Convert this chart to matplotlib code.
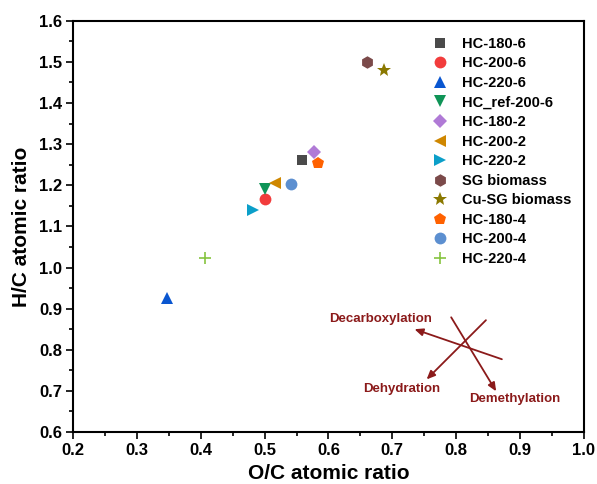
import numpy as np
import matplotlib
matplotlib.use("Agg")
from matplotlib import pyplot as plt
from matplotlib.ticker import MultipleLocator, FormatStrFormatter

plt.rcParams["font.family"] = ["Liberation Sans", "DejaVu Sans"]
plt.rcParams["font.weight"] = "bold"

# --- sample data ---
labels = ["HC-180-6", "HC-200-6", "HC-220-6", "HC_ref-200-6", "HC-180-2", "HC-200-2",
          "HC-220-2", "SG biomass", "Cu-SG biomass", "HC-180-4", "HC-200-4", "HC-220-4"]
oc_ratio = [0.558, 0.500, 0.347, 0.500, 0.577, 0.516, 0.482, 0.660, 0.687, 0.584, 0.542, 0.406]
hc_ratio = [1.262, 1.166, 0.925, 1.192, 1.281, 1.206, 1.141, 1.499, 1.480, 1.254, 1.203, 1.023]
markers = ["s", "o", "^", "v", "D", "<", ">", "h", "*", "p", "o", "+"]
colors = ["#4a4a4a", "#f23c3c", "#0a56d0", "#0f9457", "#b07ad6", "#cf8700",
          "#0b9fc9", "#7b4a4a", "#8a7800", "#ff6100", "#5c8fd0", "#86c440"]
sizes = [7.5, 8.5, 8.5, 8.5, 7, 8.5, 9, 9, 10, 9, 8.5, 9]

# reaction pathway arrows: (label, tail, head, label position)
arrow_names = ["Decarboxylation", "Dehydration", "Demethylation"]
arrow_tail = [(0.872, 0.777), (0.847, 0.872), (0.7925, 0.879)]
arrow_head = [(0.735, 0.850), (0.754, 0.728), (0.863, 0.699)]
arrow_text = [(0.681, 0.874), (0.715, 0.704), (0.892, 0.680)]
ARROW_COLOR = "#8b1a1a"

fig = plt.figure(figsize=(5.97, 4.84), dpi=100)
ax = fig.add_axes([0.1228, 0.1074, 0.8546, 0.8496])

for lab, x, y, m, c, s in zip(labels, oc_ratio, hc_ratio, markers, colors, sizes):
    mew = 1.2 if m == "+" else 0
    ax.plot([x], [y], linestyle="none", marker=m, color=c, markersize=s,
            markeredgewidth=mew, label=lab)

for name, tail, head, tpos in zip(arrow_names, arrow_tail, arrow_head, arrow_text):
    ax.annotate("", xy=head, xytext=tail,
                arrowprops=dict(arrowstyle="-|>,head_length=0.5,head_width=0.22",
                                color=ARROW_COLOR, lw=1.3, shrinkA=0, shrinkB=0))
    ax.text(tpos[0], tpos[1], name, color=ARROW_COLOR, fontsize=9.5,
            fontweight="bold", ha="center", va="center")

ax.set_xlim(0.2, 1.0)
ax.set_ylim(0.6, 1.6)
ax.xaxis.set_major_locator(MultipleLocator(0.1))
ax.xaxis.set_minor_locator(MultipleLocator(0.05))
ax.yaxis.set_major_locator(MultipleLocator(0.1))
ax.yaxis.set_minor_locator(MultipleLocator(0.05))
ax.xaxis.set_major_formatter(FormatStrFormatter("%.1f"))
ax.yaxis.set_major_formatter(FormatStrFormatter("%.1f"))
ax.tick_params(which="major", direction="out", length=5, width=1.2, labelsize=12, pad=3)
ax.tick_params(which="minor", direction="out", length=3, width=1.2)
for sp in ax.spines.values():
    sp.set_linewidth(1.5)

ax.set_xlabel("O/C atomic ratio", fontsize=15, fontweight="bold", labelpad=4)
ax.set_ylabel("H/C atomic ratio", fontsize=15, fontweight="bold", labelpad=6)

ax.legend(loc="upper left", bbox_to_anchor=(0.69, 0.975), frameon=False,
          handlelength=1.2, handletextpad=0.9, labelspacing=0.38,
          borderaxespad=0, numpoints=1, prop={"weight": "bold", "size": 10.5})

plt.savefig("out.png", dpi=100)
